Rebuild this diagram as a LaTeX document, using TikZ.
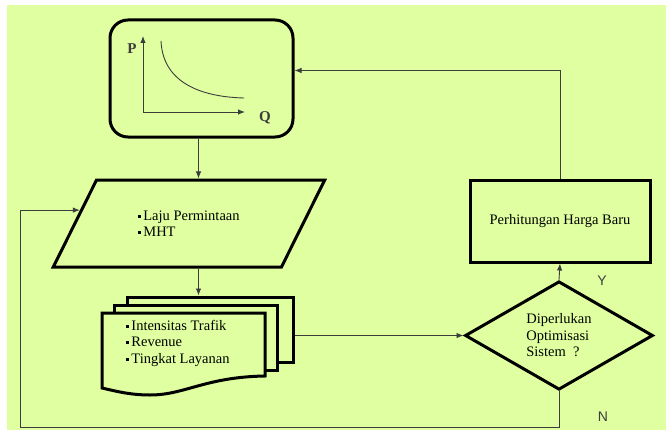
\documentclass[tikz,border=0pt]{standalone}
\usepackage{fontspec}
\setmainfont{Liberation Serif}
\newfontfamily\sansyn{Liberation Sans}
\usetikzlibrary{shapes.geometric,arrows.meta}
\definecolor{hijau}{RGB}{223,255,160}
\definecolor{garis}{RGB}{60,60,60}
\newcommand{\butir}{\rule[2.5pt]{3pt}{3pt}\hspace{2pt}}

\begin{document}
\begin{tikzpicture}[x=1pt,y=-1pt,
    tebal/.style={draw,line width=3pt},
    teks/.style={font=\fontsize{14.5}{16.5}\selectfont},
    label yn/.style={font=\sansyn\fontsize{14}{16}\selectfont,text=garis},
    panah/.style={-{Latex[length=7pt,width=5.5pt]},draw=garis,line width=0.9pt}]
    % Background
    \fill[white] (0,0) rectangle (666,436);
    \fill[hijau] (7,5) rectangle (666,430);
    \useasboundingbox (0,0) rectangle (666,436);

    % Demand curve box
    \node[tebal,rounded corners=18pt,minimum width=183pt,minimum height=117pt] (Kurva) at (201.5,78.5) {};
    \draw[panah] (143,112) -- (143,36);
    \draw[panah] (143,112) -- (245,112);
    \draw[garis,line width=0.9pt] (161,41) .. controls (163,85) and (205,97) .. (244,98);
    \node[teks,font=\bfseries\fontsize{15}{17}\selectfont,text=garis] (P) at (132,49) {P};
    \node[teks,font=\bfseries\fontsize{15}{17}\selectfont,text=garis] (Q) at (265,118) {Q};

    % Input
    \node[tebal,trapezium,trapezium left angle=52.4,trapezium right angle=127.6,trapezium stretches=true,
          minimum width=272pt,minimum height=87pt,teks,align=left] (Input) at (189,223.5)
          {\butir Laju Permintaan\\\butir MHT};

    % Output documents
    \node[tebal,fill=hijau,minimum width=166pt,minimum height=65pt] (Dok3) at (210,329.5) {};
    \node[tebal,fill=hijau,minimum width=163pt,minimum height=65pt] (Dok2) at (196,337.5) {};
    \draw[line width=3pt,fill=hijau] (102,313) -- (265,313) -- (265,376)
        .. controls (205,377) and (185,395) .. (150,395)
        .. controls (130,395) and (115,391) .. (102,388) -- cycle;
    \node[teks,align=left] (IsiDok) at (178,343)
          {\butir Intensitas Trafik\\\butir Revenue\\\butir Tingkat Layanan};

    % Decision and new price
    \node[tebal,diamond,minimum width=188pt,minimum height=105pt,inner sep=0pt,teks,align=left] (Cek) at (559,335.5)
          {Diperlukan\\Optimisasi\\Sistem~~?};
    \node[tebal,minimum width=180pt,minimum height=82pt,teks] (Baru) at (560,221) {Perhitungan Harga Baru};
    \node[label yn] (Y) at (602,281) {Y};
    \node[label yn] (N) at (603,417) {N};

    % Arrows
    \coordinate (sumbu) at (198.5,0);
    \coordinate (pojok) at (20,427);
    \draw[panah] (Kurva.south -| sumbu) -- (Input.north -| sumbu);
    \draw[panah] (Input.south -| sumbu) -- (Dok3.north -| sumbu);
    \draw[panah] (Dok3.east |- Cek.west) -- (Cek.west);
    \draw[panah] (Cek.north) -- (Baru.south);
    \draw[panah] (Baru.north) |- ([yshift=8pt]Kurva.east);
    \draw[panah] (Cek.south) |- (pojok) |- (Input.173);
\end{tikzpicture}
\end{document}
